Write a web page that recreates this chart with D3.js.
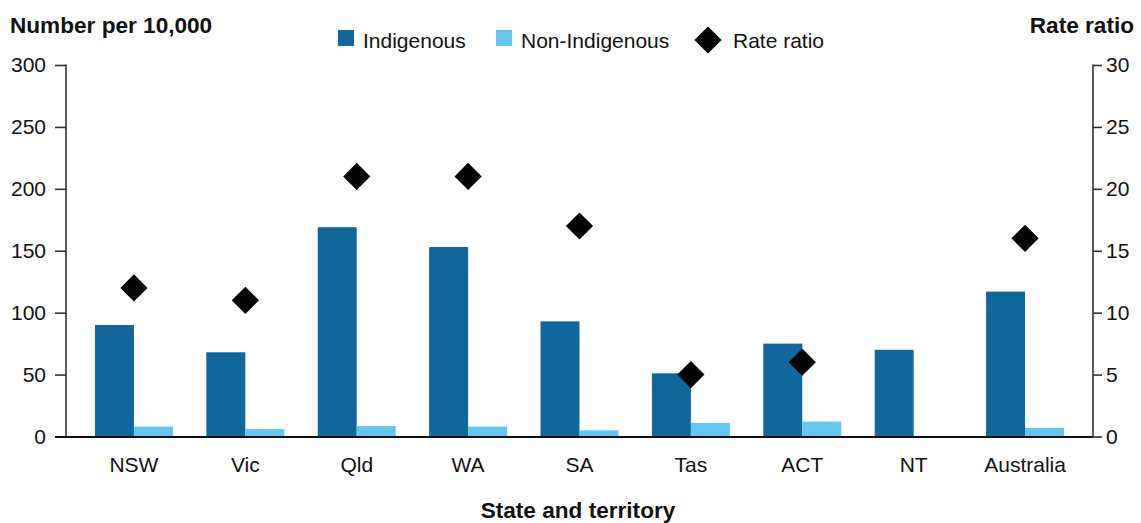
<!DOCTYPE html>
<html><head><meta charset="utf-8">
<script src="https://cdn.jsdelivr.net/npm/d3@7"></script>
<style>body{margin:0;background:#fff;} text{font-family:"Liberation Sans",Arial,sans-serif;}</style>
</head><body><svg id="c" width="1141" height="523"></svg>
<script>
const categories = ["NSW","Vic","Qld","WA","SA","Tas","ACT","NT","Australia"];
const indigenous = [90,68,169,153,93,51,75,70,117];
const nonIndigenous = [8,6,8.5,8,5,11,12,null,7];
const rateRatio = [12,11,21,21,17,5,6,null,16];
const leftTicks = [0,50,100,150,200,250,300];
const rightTicks = [0,5,10,15,20,25,30];

const FS = 21, FT = 22.6;
const svg = d3.select("#c");
const L = 66, R = 1093, T = 65, B = 436.5;
const x = d3.scaleBand().domain(categories).range([L,R]).paddingInner(0.3).paddingOuter(0.26);
const y = d3.scaleLinear().domain([0,300]).range([B,T]);
const y2 = d3.scaleLinear().domain([0,30]).range([B,T]);
const cIn = "#10679b", cNon = "#65c6f0";
const bw = x.bandwidth()/2;

svg.append("g").selectAll("rect").data(categories).join("rect")
  .attr("x", d=>x(d)).attr("width", bw)
  .attr("y", (d,i)=>y(indigenous[i])).attr("height",(d,i)=>B-y(indigenous[i])).attr("fill",cIn);
svg.append("g").selectAll("rect").data(categories.filter((d,i)=>nonIndigenous[i]!=null)).join("rect")
  .attr("x", d=>x(d)+bw).attr("width", bw)
  .attr("y", d=>y(nonIndigenous[categories.indexOf(d)])).attr("height",d=>B-y(nonIndigenous[categories.indexOf(d)])).attr("fill",cNon);

const sym = d3.symbol().type(d3.symbolSquare).size(370);
svg.append("g").selectAll("path").data(categories.filter((d,i)=>rateRatio[i]!=null)).join("path")
  .attr("d", sym)
  .attr("transform", d=>`translate(${x(d)+bw},${y2(rateRatio[categories.indexOf(d)])}) rotate(45)`)
  .attr("fill","#050505");

// axes
const ax = svg.append("g").attr("transform",`translate(${L},0)`)
  .call(d3.axisLeft(y).tickValues(leftTicks).tickSize(11).tickPadding(9));
ax.select(".domain").remove();
ax.selectAll(".tick line").attr("stroke","#333").attr("stroke-width",1.6);
ax.selectAll("text").attr("font-size",FS).attr("fill","#111").attr("font-family","Liberation Sans, Arial, sans-serif");
svg.append("line").attr("x1",L).attr("x2",L).attr("y1",T-0.5).attr("y2",B).attr("stroke","#333").attr("stroke-width",1.6);

const ax2 = svg.append("g").attr("transform",`translate(${R},0)`)
  .call(d3.axisRight(y2).tickValues(rightTicks).tickSize(9).tickPadding(4));
ax2.select(".domain").remove();
ax2.selectAll(".tick line").attr("stroke","#333").attr("stroke-width",1.6);
ax2.selectAll("text").attr("font-size",FS).attr("fill","#111").attr("font-family","Liberation Sans, Arial, sans-serif");
svg.append("line").attr("x1",R).attr("x2",R).attr("y1",T-0.5).attr("y2",B).attr("stroke","#333").attr("stroke-width",1.6);

svg.append("line").attr("x1",55).attr("x2",R).attr("y1",B+0.5).attr("y2",B+0.5).attr("stroke","#111").attr("stroke-width",2);

const xa = svg.append("g").attr("transform",`translate(0,${B})`)
  .call(d3.axisBottom(x).tickSize(0).tickPadding(21));
xa.select(".domain").remove();
xa.selectAll("text").attr("font-size",FS).attr("fill","#111").attr("font-family","Liberation Sans, Arial, sans-serif");

// titles
svg.append("text").attr("x",10).attr("y",33).attr("font-size",FT).attr("font-weight","bold").attr("fill","#111").text("Number per 10,000");
svg.append("text").attr("x",1134).attr("y",33).attr("text-anchor","end").attr("font-size",FT).attr("font-weight","bold").attr("fill","#111").text("Rate ratio");
svg.append("text").attr("x",578).attr("y",518).attr("text-anchor","middle").attr("font-size",FT).attr("font-weight","bold").attr("fill","#111").text("State and territory");

// legend
const lg = svg.append("g");
lg.append("rect").attr("x",338).attr("y",30).attr("width",16).attr("height",16).attr("fill",cIn);
lg.append("text").attr("x",363).attr("y",48).attr("font-size",FS).attr("fill","#111").text("Indigenous");
lg.append("rect").attr("x",496).attr("y",30).attr("width",16).attr("height",16).attr("fill",cNon);
lg.append("text").attr("x",521).attr("y",48).attr("font-size",FS).attr("fill","#111").text("Non-Indigenous");
lg.append("path").attr("d",sym).attr("transform","translate(708,40) rotate(45)").attr("fill","#050505");
lg.append("text").attr("x",733).attr("y",48).attr("font-size",FS).attr("fill","#111").text("Rate ratio");
</script></body></html>
